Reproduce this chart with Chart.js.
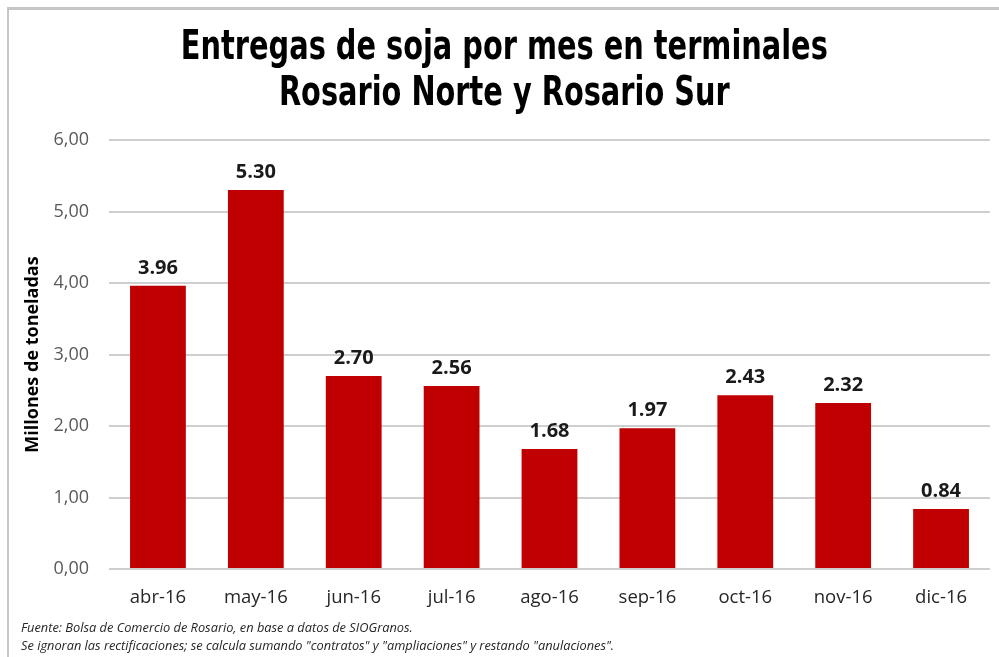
<!DOCTYPE html>
<html>
<head>
<meta charset="utf-8">
<script src="https://cdn.jsdelivr.net/npm/chart.js@4.4.1/dist/chart.umd.min.js"></script>
<style>
  html, body { margin: 0; padding: 0; background: #fff; }
  #wrap { position: relative; width: 999px; height: 657px; overflow: hidden; }
  #frame { position: absolute; left: 7px; top: 7px; width: 1000px; height: 700px;
           border-top: 3px solid #c6c6c6; border-left: 2px solid #c6c6c6; box-sizing: border-box; }
  canvas { position: absolute; left: 0; top: 0; }
</style>
</head>
<body>
<div id="wrap">
  <div id="frame"></div>
  <canvas id="c" width="999" height="657"></canvas>
</div>
<script>
const titleLines = ["Entregas de soja por mes en terminales", "Rosario Norte y Rosario Sur"];
const yAxisTitle = "Millones de toneladas";
const footnoteLines = [
  "Fuente: Bolsa de Comercio de Rosario, en base a datos de SIOGranos.",
  "Se ignoran las rectificaciones; se calcula sumando \"contratos\" y \"ampliaciones\" y restando \"anulaciones\"."
];
const categories = ["abr-16", "may-16", "jun-16", "jul-16", "ago-16", "sep-16", "oct-16", "nov-16", "dic-16"];
const deliveries = [3.96, 5.30, 2.70, 2.56, 1.68, 1.97, 2.43, 2.32, 0.84];

const TITLE_TARGET_WIDTH = 647;

const condenseTitle = {
  id: 'condenseTitle',
  beforeDraw(chart) {
    const tb = chart.titleBlock;
    if (!tb || tb._wrapped) return;
    const orig = tb.draw.bind(tb);
    tb.draw = function () {
      const ctx = chart.ctx;
      ctx.save();
      ctx.font = "bold 40px 'DejaVu Sans Condensed', 'DejaVu Sans', sans-serif";
      const w = ctx.measureText(titleLines[0]).width;
      ctx.restore();
      const s = Math.min(1, TITLE_TARGET_WIDTH / w);
      const cx = chart.width / 2;
      ctx.save();
      ctx.translate(cx, 0);
      ctx.scale(s, 1);
      ctx.translate(-cx, 0);
      orig();
      ctx.restore();
    };
    tb._wrapped = true;
  }
};

const barLabels = {
  id: 'barLabels',
  afterDatasetsDraw(chart) {
    const ctx = chart.ctx;
    const meta = chart.getDatasetMeta(0);
    ctx.save();
    ctx.font = "bold 20px 'Open Sans', sans-serif";
    ctx.fillStyle = '#1a1a1a';
    ctx.textAlign = 'center';
    ctx.textBaseline = 'alphabetic';
    meta.data.forEach((bar, i) => {
      ctx.fillText(deliveries[i].toFixed(2), bar.x, bar.y - 12);
    });
    ctx.restore();
  }
};

new Chart(document.getElementById('c'), {
  type: 'bar',
  data: {
    labels: categories,
    datasets: [{
      data: deliveries,
      backgroundColor: '#C00000',
      borderWidth: 0,
      barPercentage: 0.57,
      categoryPercentage: 1.0
    }]
  },
  options: {
    responsive: false,
    animation: false,
    layout: { padding: { left: 21, right: 9, top: 0, bottom: 0 } },
    plugins: {
      legend: { display: false },
      tooltip: { enabled: false },
      title: {
        display: true,
        text: titleLines,
        color: '#000',
        font: { family: "'DejaVu Sans Condensed', 'DejaVu Sans', sans-serif", size: 40, weight: 'bold', lineHeight: '46px' },
        padding: { top: 26, bottom: 22 }
      },
      subtitle: {
        display: true,
        position: 'bottom',
        align: 'start',
        text: footnoteLines,
        color: '#262626',
        font: { family: "'Open Sans', sans-serif", size: 12.8, style: 'italic', lineHeight: '18px' },
        padding: { top: 4, bottom: 2 }
      }
    },
    scales: {
      x: {
        grid: { display: false, drawTicks: false },
        border: { display: false },
        ticks: { color: '#262626', font: { family: "'Open Sans', sans-serif", size: 18.5 }, padding: 18 },
        afterFit(scale) { scale.height = 46; }
      },
      y: {
        min: 0,
        max: 6,
        ticks: {
          stepSize: 1,
          color: '#595959',
          font: { family: "'Open Sans', sans-serif", size: 18 },
          padding: 20,
          callback: (v) => v.toFixed(2).replace('.', ',')
        },
        grid: { color: '#cfcfcf', lineWidth: 2, drawTicks: false },
        border: { display: false },
        title: {
          display: true,
          text: yAxisTitle,
          color: '#000',
          font: { family: "'Open Sans', sans-serif", size: 18, weight: 'bold' },
          padding: { top: 1, bottom: 0 }
        },
        afterFit(scale) { scale.width = 88; }
      }
    }
  },
  plugins: [condenseTitle, barLabels]
});
</script>
</body>
</html>
